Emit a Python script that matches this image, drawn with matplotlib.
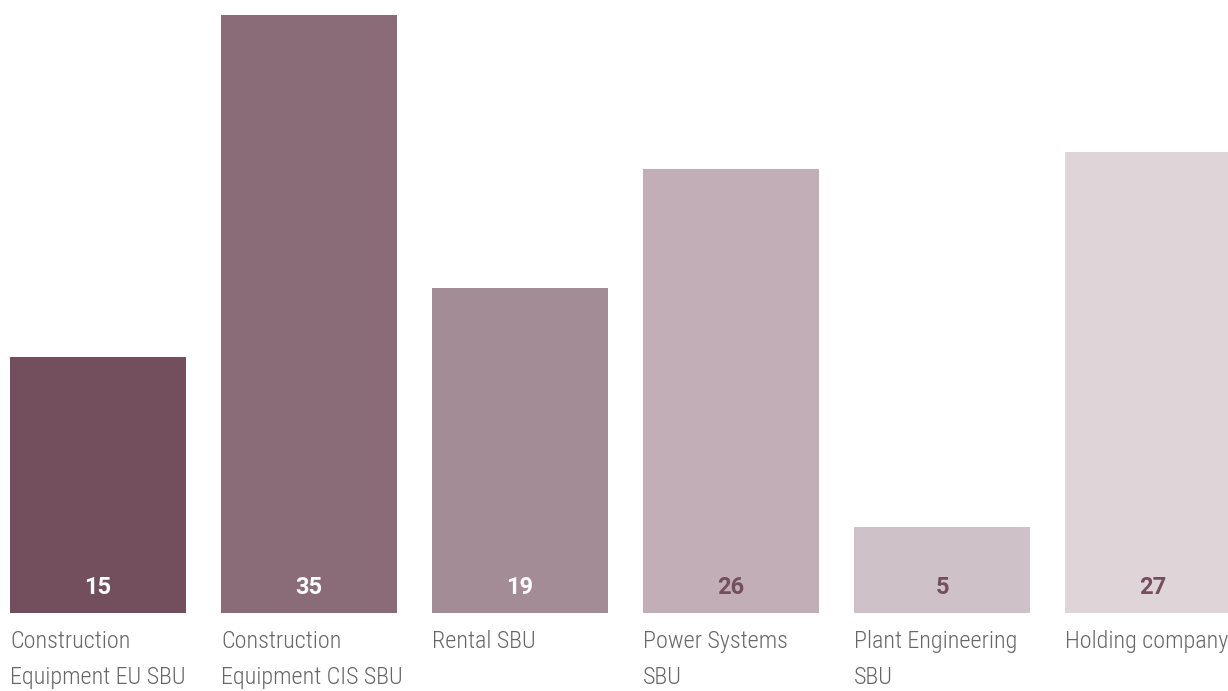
import matplotlib.pyplot as plt
from matplotlib import font_manager

# Données par SBU
categories = ["Construction\nEquipment EU SBU", "Construction\nEquipment CIS SBU", "Rental SBU",
              "Power Systems\nSBU", "Plant Engineering\nSBU", "Holding company"]
values = [15, 35, 19, 26, 5, 27]
colors = ["#734f5e", "#8a6b78", "#a38c95", "#c1aeb6", "#cfc1c8", "#dfd5d9"]
value_colors = ["white", "white", "white", "#734f5e", "#734f5e", "#734f5e"]

installed = {f.name for f in font_manager.fontManager.ttflist}
family = [f for f in ["Roboto Condensed", "Barlow Semi Condensed", "Archivo Narrow", "DejaVu Sans"]
          if f in installed]
plt.rcParams['font.family'] = family

fig = plt.figure(figsize=(12.28, 6.91), dpi=100)
ax = fig.add_axes([0, 78.5 / 691, 1, 612.5 / 691])

x = range(len(values))
ax.bar(x, values, width=176 / 211, color=colors)

for i, (v, c) in enumerate(zip(values, value_colors)):
    # valeurs en gras dans le pied de chaque barre
    ax.text(i, 1.44, str(v), ha='center', va='center', fontsize=17,
            fontweight='bold', color=c, family=['Roboto', 'DejaVu Sans'])
    # libellés sous les barres, alignés à gauche
    ax.text(i - 88 / 211, -1.0, categories[i], ha='left', va='top', fontsize=17.4,
            fontweight='light', color='#666666', linespacing=1.72, clip_on=False)

ax.set_xlim(-98 / 211, (1228 - 98) / 211)
ax.set_ylim(0, 612.5 / 17.06)
ax.axis('off')

plt.savefig("out.png", dpi=100)
plt.close()
